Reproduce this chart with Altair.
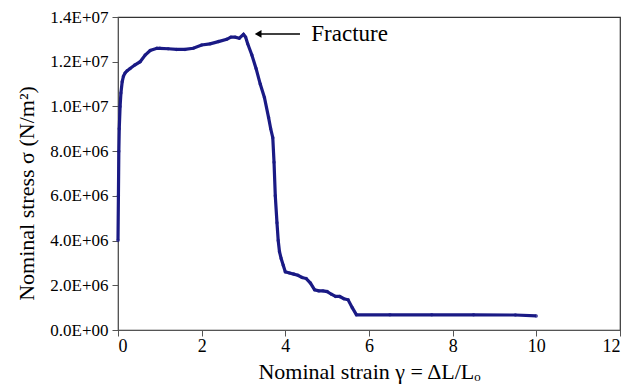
import altair as alt
import pandas as pd

strain = [0.0, 0.01, 0.02, 0.03, 0.05, 0.07, 0.1, 0.13, 0.17, 0.22, 0.29, 0.4, 0.53, 0.65, 0.77, 0.93, 1.0,
          1.2, 1.4, 1.6, 1.8, 2.0, 2.2, 2.4, 2.6, 2.7, 2.8, 2.9, 3.0,
          3.05, 3.1, 3.2, 3.3, 3.4, 3.5, 3.6, 3.65, 3.7, 3.73, 3.76, 3.8, 3.83, 3.86, 3.9, 3.95, 4.0,
          4.1, 4.2, 4.3, 4.4, 4.5, 4.6, 4.7, 4.8, 4.9, 5.0, 5.1, 5.2, 5.3, 5.4, 5.5, 5.6, 5.7,
          6.5, 7.5, 8.5, 9.5, 10.0]
stress = [4.0e6, 6.0e6, 8.0e6, 9.0e6, 10.0e6, 10.6e6, 11.1e6, 11.35e6, 11.5e6, 11.6e6, 11.7e6, 11.85e6, 12.0e6, 12.3e6, 12.5e6, 12.6e6, 12.6e6,
          12.58e6, 12.55e6, 12.55e6, 12.6e6, 12.75e6, 12.8e6, 12.9e6, 13.0e6, 13.1e6, 13.1e6, 13.05e6, 13.22e6,
          13.1e6, 12.8e6, 12.3e6, 11.7e6, 11.0e6, 10.4e6, 9.5e6, 9.0e6, 8.6e6, 7.5e6, 6.0e6, 4.8e6, 4.0e6, 3.5e6, 3.2e6, 2.9e6, 2.6e6,
          2.55e6, 2.5e6, 2.45e6, 2.35e6, 2.3e6, 2.1e6, 1.8e6, 1.75e6, 1.75e6, 1.72e6, 1.6e6, 1.5e6, 1.5e6, 1.4e6, 1.35e6, 1.0e6, 0.68e6,
          0.68e6, 0.68e6, 0.68e6, 0.67e6, 0.63e6]

df = pd.DataFrame({"strain": strain, "stress": stress})

xticks = [0, 2, 4, 6, 8, 10, 12]
yticks = [0, 2e6, 4e6, 6e6, 8e6, 10e6, 12e6, 14e6]

font = "Liberation Serif"
line_color = "#1a1a85"

x = alt.X("strain:Q", scale=alt.Scale(domain=[0, 12], nice=False),
          axis=alt.Axis(values=xticks, title="Nominal strain γ = ΔL/Lₒ", grid=False,
                        labelFontSize=18, labelColor="black", labelPadding=1,
                        titleFontSize=22, titleFontWeight="normal", titleColor="black",
                        titlePadding=6, domainColor="#555", tickColor="#555", tickSize=6))
y = alt.Y("stress:Q", scale=alt.Scale(domain=[0, 1.4e7], nice=False),
          axis=alt.Axis(values=yticks, title="Nominal stress σ (N/m²)", grid=False,
                        labelExpr="datum.value == 0 ? '0.0E+00' : (datum.value >= 1e7 ? format(datum.value/1e7, '.1f') + 'E+07' : format(datum.value/1e6, '.1f') + 'E+06')",
                        labelFontSize=17, labelColor="black", labelPadding=4,
                        titleFontSize=22, titleFontWeight="normal", titleColor="black",
                        titleX=-80, titleY=176, titleAngle=-90, titleBaseline="bottom",
                        domainColor="#555", tickColor="#555", tickSize=6))

line = alt.Chart(df).mark_line(color=line_color, strokeWidth=3.2).encode(x=x, y=y)
pts = alt.Chart(df).mark_point(color=line_color, filled=True, size=12).encode(x="strain:Q", y="stress:Q")

ann = pd.DataFrame({"x": [4.35], "x2": [3.35], "y": [13.24e6], "label": ["Fracture"], "tx": [4.62]})
arrow = alt.Chart(ann).mark_rule(color="black", strokeWidth=1.5).encode(x="x:Q", x2="x2:Q", y="y:Q")
head = alt.Chart(ann).mark_point(shape="triangle-left", filled=True, color="black", size=60, opacity=1).encode(
    x="x2:Q", y="y:Q")
text = alt.Chart(ann).mark_text(font=font, fontSize=23, align="left", baseline="middle", color="black").encode(
    x="tx:Q", y="y:Q", text="label:N")

chart = alt.layer(line, pts, arrow, head, text).properties(
    width=502, height=313,
    padding={"left": 118, "top": 17, "right": 8, "bottom": 58},
    autosize=alt.AutoSizeParams(type="none"),
    background="white",
).configure(font=font).configure_axis(labelFont=font, titleFont=font).configure_view(stroke="#333", strokeWidth=1.2)

chart.save("out.html", embed_options={"renderer": "svg", "actions": False})
